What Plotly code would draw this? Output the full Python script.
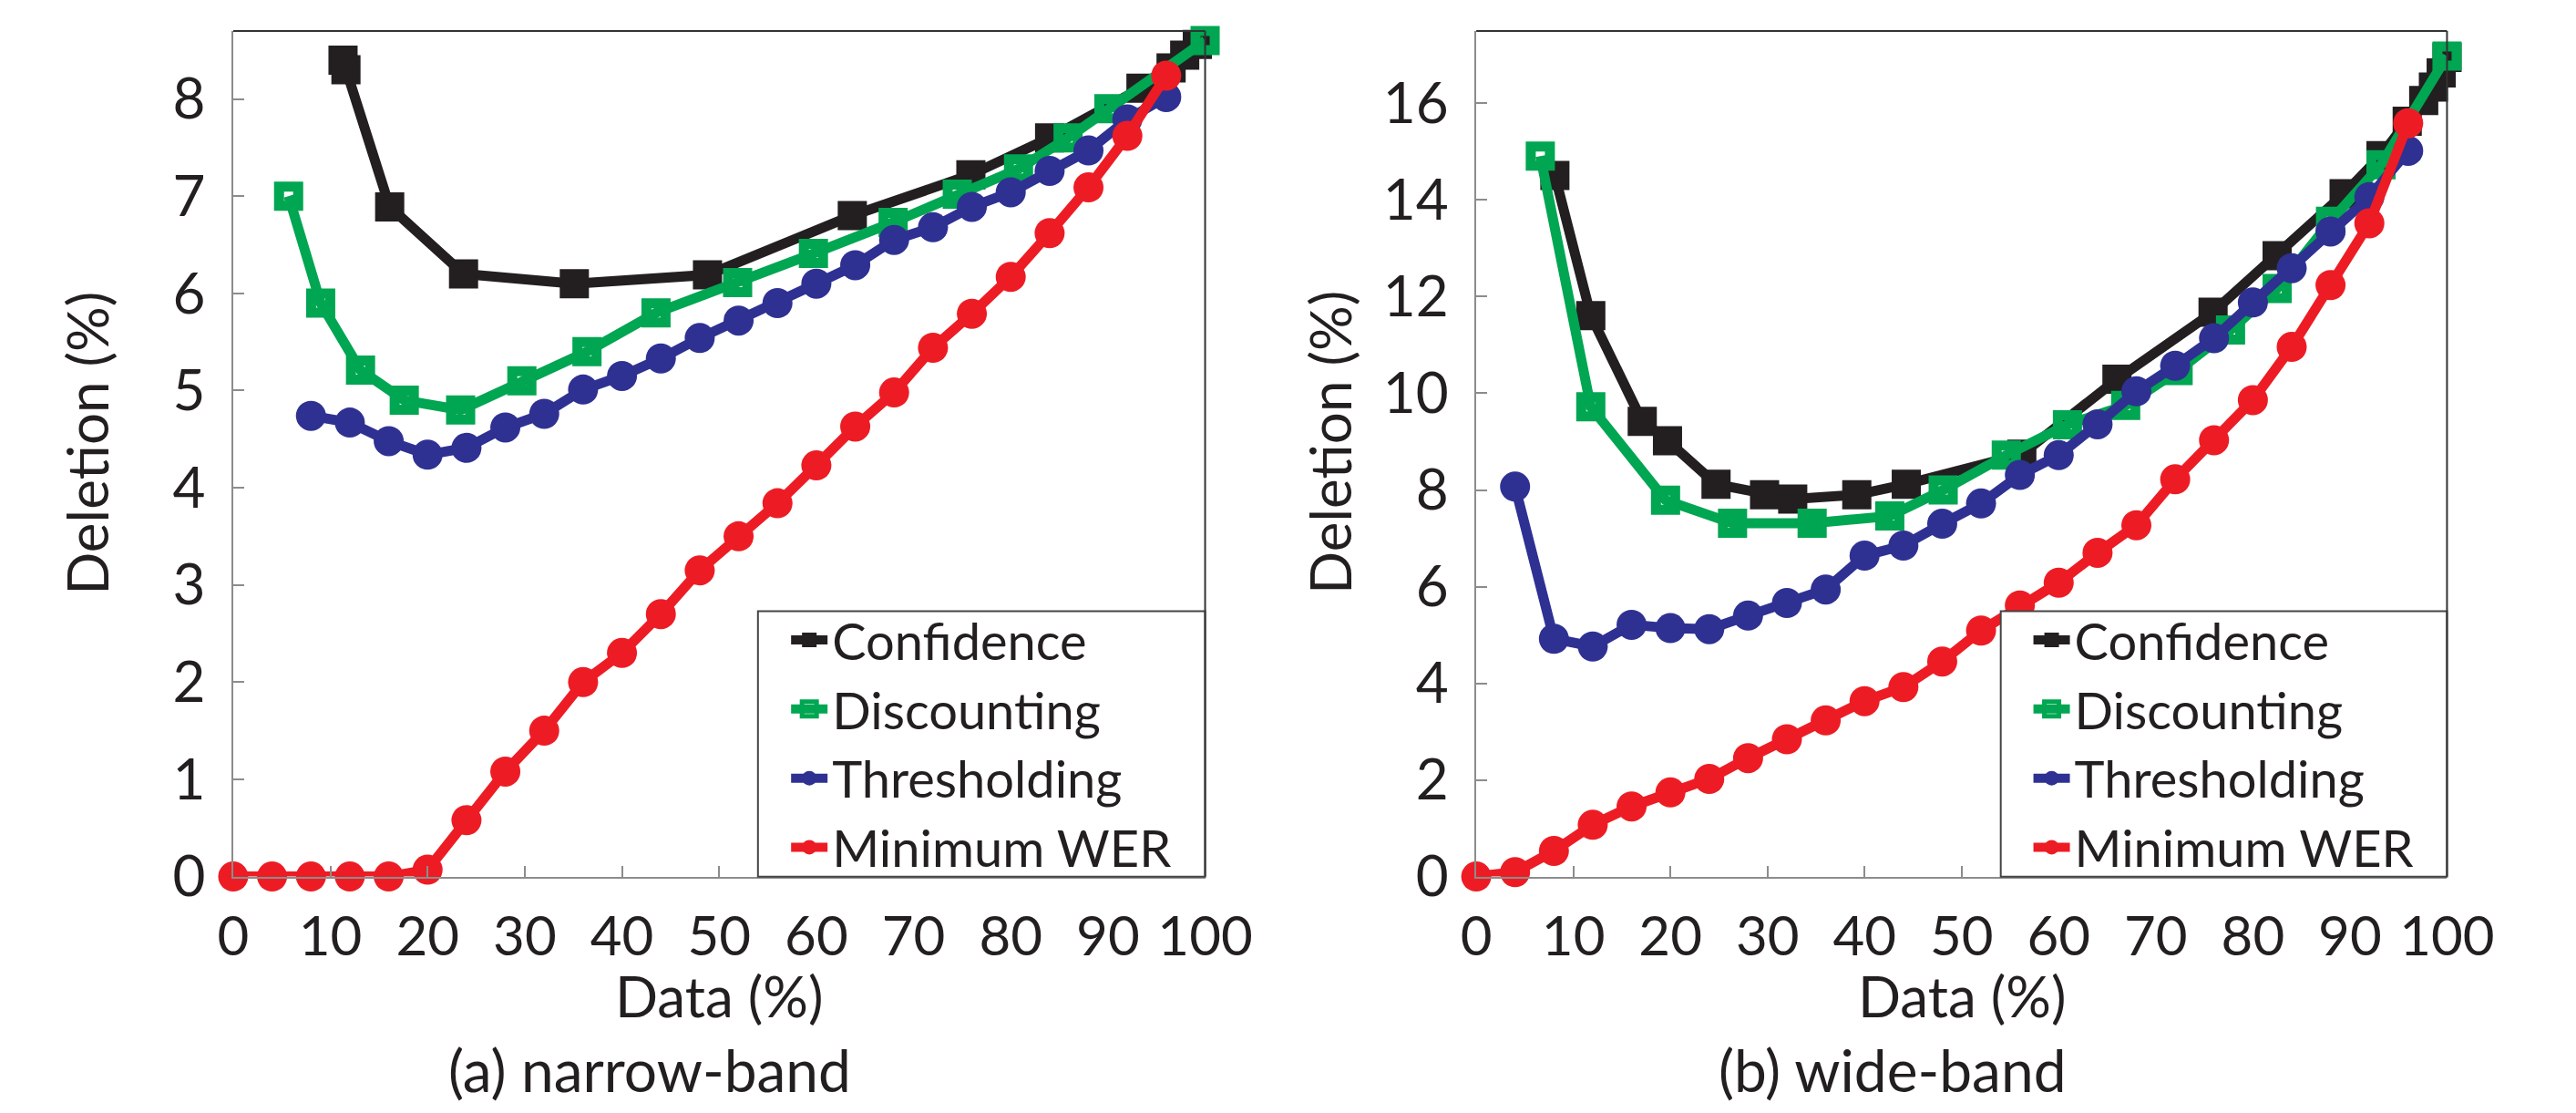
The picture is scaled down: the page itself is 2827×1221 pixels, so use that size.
import plotly.graph_objects as go

# ---------------- data ----------------
x_ticks = [0, 10, 20, 30, 40, 50, 60, 70, 80, 90, 100]
y_ticks_nb = [0, 1, 2, 3, 4, 5, 6, 7, 8]
y_ticks_wb = [0, 2, 4, 6, 8, 10, 12, 14, 16]
series_names = ["Confidence", "Discounting", "Thresholding", "Minimum WER"]

# (a) narrow-band
nb_conf_x = [11.3, 11.6, 16.1, 23.7, 35.1, 48.8, 63.7, 75.9, 84.0, 93.4, 96.5, 97.9, 99.2]
nb_conf_y = [8.40, 8.30, 6.89, 6.20, 6.10, 6.19, 6.80, 7.22, 7.60, 8.11, 8.32, 8.45, 8.56]
nb_disc_x = [5.7, 9.0, 13.1, 17.6, 23.4, 29.7, 36.4, 43.5, 51.9, 59.7, 67.9, 74.5, 80.8, 85.9, 90.1, 100.0]
nb_disc_y = [7.00, 5.90, 5.21, 4.90, 4.80, 5.10, 5.40, 5.80, 6.11, 6.41, 6.73, 7.02, 7.28, 7.60, 7.90, 8.60]
nb_thr_x = [8, 12, 16, 20, 24, 28, 32, 36, 40, 44, 48, 52, 56, 60, 64, 68, 72, 76, 80, 84, 88, 92, 96]
nb_thr_y = [4.74, 4.67, 4.48, 4.34, 4.41, 4.62, 4.76, 5.01, 5.15, 5.33, 5.54, 5.72, 5.90, 6.10,
            6.29, 6.55, 6.68, 6.89, 7.04, 7.26, 7.47, 7.79, 8.02]
nb_mwer_x = [0, 4, 8, 12, 16, 20, 24, 28, 32, 36, 40, 44, 48, 52, 56, 60, 64, 68, 72, 76, 80, 84, 88, 92, 96]
nb_mwer_y = [0.0, 0.0, 0.0, 0.0, 0.0, 0.07, 0.58, 1.08, 1.50, 2.00, 2.30, 2.70, 3.15, 3.50, 3.84,
             4.23, 4.63, 4.98, 5.44, 5.79, 6.17, 6.62, 7.09, 7.62, 8.24]

# (b) wide-band
wb_conf_x = [8.1, 11.8, 17.1, 19.7, 24.7, 29.7, 32.6, 39.2, 44.3, 56.2, 66.0, 75.9, 82.5, 89.4,
             93.2, 95.9, 97.6, 98.6, 99.4, 100.0]
wb_conf_y = [14.51, 11.61, 9.42, 9.02, 8.12, 7.90, 7.81, 7.90, 8.12, 8.74, 10.29, 11.68, 12.85,
             14.13, 14.92, 15.63, 16.06, 16.34, 16.63, 16.95]
wb_disc_x = [6.6, 11.8, 19.5, 26.4, 34.6, 42.6, 48.1, 54.6, 60.9, 66.9, 72.3, 77.7, 82.5, 88.0, 93.2, 100.0]
wb_disc_y = [14.91, 9.72, 7.79, 7.31, 7.31, 7.46, 8.00, 8.72, 9.35, 9.75, 10.47, 11.31, 12.17,
             13.56, 14.73, 16.98]
wb_thr_x = [4, 8, 12, 16, 20, 24, 28, 32, 36, 40, 44, 48, 52, 56, 60, 64, 68, 72, 76, 80, 84, 88, 92, 96]
wb_thr_y = [8.07, 4.92, 4.76, 5.21, 5.14, 5.12, 5.40, 5.66, 5.94, 6.64, 6.85, 7.30, 7.72, 8.31,
            8.72, 9.36, 10.04, 10.57, 11.14, 11.88, 12.59, 13.35, 14.06, 15.02]
wb_mwer_x = [0, 4, 8, 12, 16, 20, 24, 28, 32, 36, 40, 44, 48, 52, 56, 60, 64, 68, 72, 76, 80, 84, 88, 92, 96]
wb_mwer_y = [0.0, 0.09, 0.53, 1.07, 1.45, 1.74, 2.02, 2.45, 2.84, 3.23, 3.63, 3.92, 4.45, 5.09,
             5.61, 6.08, 6.70, 7.27, 8.22, 9.03, 9.86, 10.96, 12.24, 13.52, 15.59]

# ---------------- styling ----------------
FONT = "Lato, 'Open Sans', 'DejaVu Sans', sans-serif"
TXT = "#231f20"
STYLES = {
    "Confidence": dict(color="#231f20", symbol="square", size=32, lw=0),
    "Discounting": dict(color="#00a651", symbol="square-open", size=21, lw=11),
    "Thresholding": dict(color="#2e3192", symbol="circle", size=33, lw=0),
    "Minimum WER": dict(color="#ed1c24", symbol="circle", size=33, lw=0),
}

panels = [
    ("x", "y", "legend", [(nb_conf_x, nb_conf_y), (nb_disc_x, nb_disc_y),
                          (nb_thr_x, nb_thr_y), (nb_mwer_x, nb_mwer_y)]),
    ("x2", "y2", "legend2", [(wb_conf_x, wb_conf_y), (wb_disc_x, wb_disc_y),
                             (wb_thr_x, wb_thr_y), (wb_mwer_x, wb_mwer_y)]),
]

fig = go.Figure()
for xa, ya, leg, data in panels:
    for name, (xs, ys) in zip(series_names, data):
        st = STYLES[name]
        fig.add_trace(go.Scatter(
            x=xs, y=ys, name=name, mode="lines+markers",
            xaxis=xa, yaxis=ya, legend=leg, cliponaxis=False,
            line=dict(color=st["color"], width=11),
            marker=dict(color=st["color"], symbol=st["symbol"], size=st["size"],
                        line=dict(color=st["color"], width=st["lw"])),
        ))

W, H = 2827, 1221
bottom_px, top_px = 981.7, 26.7
ydom = [(H - bottom_px) / H, (H - top_px) / H]
left_dom = [236.7 / W, 1330 / W]
right_dom = [1635 / W, 2727 / W]

def xaxis_cfg(dom, anchor):
    return dict(domain=dom, anchor=anchor, range=[0, 100], tickvals=x_ticks,
                ticks="inside", ticklen=12, tickwidth=2, tickcolor="#8c8c8c",
                showline=True, linecolor="#8c8c8c", linewidth=2, showgrid=False,
                zeroline=False, tickfont=dict(size=60, color=TXT, family=FONT),
                ticklabelstandoff=12)

def yaxis_cfg(rng, ticks, anchor):
    return dict(domain=ydom, anchor=anchor, range=rng, tickvals=ticks,
                ticks="inside", ticklen=12, tickwidth=2, tickcolor="#8c8c8c",
                showline=True, linecolor="#8c8c8c", linewidth=2, showgrid=False,
                zeroline=False, tickfont=dict(size=62, color=TXT, family=FONT),
                ticklabelstandoff=16)

# legend boxes (pixel extents)
leg_top, leg_bot = 682, 982
leg_boxes = [(827, 1330), (2225, 2727)]

legend_cfg = dict(
    xanchor="center", yanchor="middle", y=(H - (leg_top + leg_bot) / 2) / H,
    bgcolor="rgba(0,0,0,0)", borderwidth=0,
    font=dict(size=56, color=TXT, family=FONT), itemwidth=40,
    tracegroupgap=0,
)

fig.update_layout(
    width=W, height=H, margin=dict(l=0, r=0, t=0, b=0),
    paper_bgcolor="white", plot_bgcolor="white",
    font=dict(family=FONT, color=TXT),
    xaxis=xaxis_cfg(left_dom, "y"),
    yaxis=yaxis_cfg([0, 8.7], y_ticks_nb, "x"),
    xaxis2=xaxis_cfg(right_dom, "y2"),
    yaxis2=yaxis_cfg([0, 17.5], y_ticks_wb, "x2"),
    legend=dict(legend_cfg, x=(leg_boxes[0][0] + leg_boxes[0][1]) / 2 / W),
    legend2=dict(legend_cfg, x=(leg_boxes[1][0] + leg_boxes[1][1]) / 2 / W),
)

for x0, x1 in leg_boxes:
    fig.add_shape(type="rect", xref="paper", yref="paper", layer="above",
                  x0=x0 / W, x1=x1 / W, y0=(H - leg_bot) / H, y1=(H - leg_top) / H,
                  fillcolor="white", line=dict(color="#444444", width=2))

# top/right frame lines (darker)
for xr, yr in [("x domain", "y domain"), ("x2 domain", "y2 domain")]:
    fig.add_shape(type="line", xref=xr, yref=yr, x0=0, x1=1, y0=1, y1=1, layer="above",
                  line=dict(color="#333333", width=2))
    fig.add_shape(type="line", xref=xr, yref=yr, x0=1, x1=1, y0=0, y1=1, layer="above",
                  line=dict(color="#333333", width=2))

# axis titles and captions
ann_font = dict(size=62, color=TXT, family=FONT)
for dom, cap in [(left_dom, "(a) narrow-band"), (right_dom, "(b) wide-band")]:
    fig.add_annotation(text="Data (%)", xref="paper", yref="paper",
                       x=(dom[0] + dom[1]) / 2, y=(H - 1116) / H,
                       showarrow=False, font=ann_font, xanchor="center", yanchor="middle")
    fig.add_annotation(text="Deletion (%)", xref="paper", yref="paper",
                       x=(dom[0] * W - 165) / W, y=(H - 492) / H, textangle=-90,
                       showarrow=False, font=ann_font, xanchor="center", yanchor="middle")
    fig.add_annotation(text=cap, xref="paper", yref="paper",
                       x=(dom[0] * W - 78 + (dom[1] - dom[0]) * W / 2) / W, y=(H - 1200) / H,
                       showarrow=False, font=dict(size=64, color=TXT, family=FONT),
                       xanchor="center", yanchor="middle")

fig.write_html("out.html")
